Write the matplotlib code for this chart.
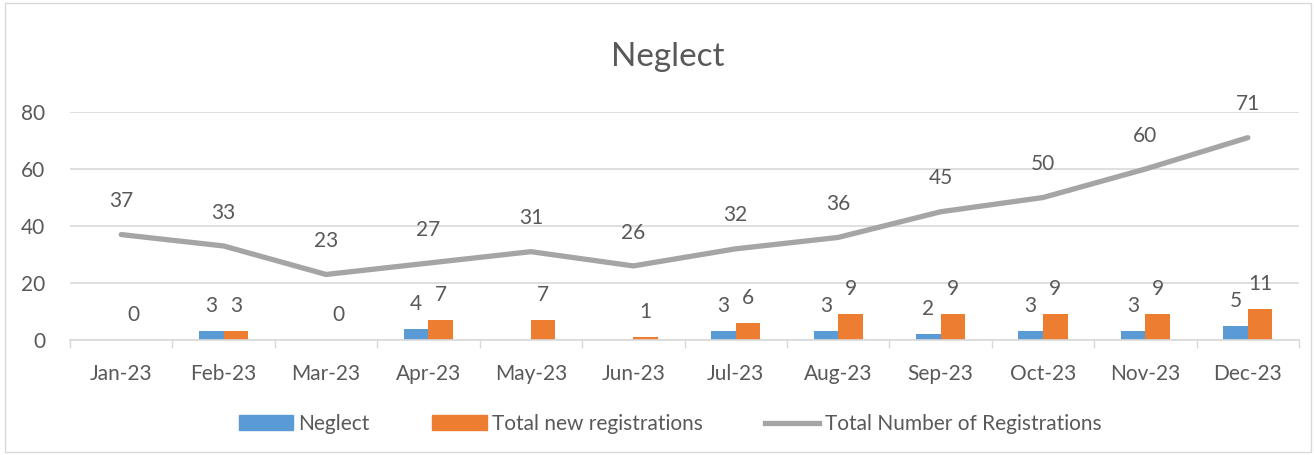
import numpy as np
import matplotlib
matplotlib.use("Agg")
import matplotlib.pyplot as plt
from matplotlib.patches import Rectangle
from matplotlib.lines import Line2D

months = ["Jan-23", "Feb-23", "Mar-23", "Apr-23", "May-23", "Jun-23",
          "Jul-23", "Aug-23", "Sep-23", "Oct-23", "Nov-23", "Dec-23"]
neglect = [np.nan, 3, np.nan, 4, np.nan, np.nan, 3, 3, 2, 3, 3, 5]
new_regs = [0, 3, 0, 7, 7, 1, 6, 9, 9, 9, 9, 11]
total_regs = [37, 33, 23, 27, 31, 26, 32, 36, 45, 50, 60, 71]

blue = "#5B9BD5"
orange = "#ED7D31"
grey = "#A5A5A5"
txt = "#595959"

plt.rcParams["font.family"] = ["Lato", "DejaVu Sans"]

fig = plt.figure(figsize=(13.14, 4.55), dpi=100)
ax = fig.add_axes([0.0533, 0.2527, 0.9353, 0.5011])

x = np.arange(len(months))
w = 0.24
ax.bar(x - w / 2, neglect, w, color=blue, label="Neglect")
ax.bar(x + w / 2, new_regs, w, color=orange, label="Total new registrations")
ax.plot(x, total_regs, color=grey, lw=3.8, solid_capstyle="round",
        label="Total Number of Registrations")

fs = 15
# data labels
for i in range(len(months)):
    if not np.isnan(neglect[i]):
        ax.annotate(f"{neglect[i]:.0f}", (x[i] - w / 2, neglect[i]), xytext=(0, 18),
                    textcoords="offset points", ha="center", va="center",
                    fontsize=fs, color=txt, annotation_clip=False)
    ax.annotate(f"{new_regs[i]}", (x[i] + w / 2, new_regs[i]), xytext=(0, 18),
                textcoords="offset points", ha="center", va="center",
                fontsize=fs, color=txt, annotation_clip=False)
    ax.annotate(f"{total_regs[i]}", (x[i], total_regs[i]), xytext=(0, 24),
                textcoords="offset points", ha="center", va="center",
                fontsize=fs, color=txt, annotation_clip=False)

ax.set_xlim(-0.5, len(months) - 0.5)
ax.set_ylim(0, 80)
ax.set_yticks([0, 20, 40, 60, 80])
ax.set_xticks(x)
ax.set_xticklabels(months)
ax.set_xticks(np.arange(-0.5, len(months)), minor=True)
ax.tick_params(axis="x", which="major", length=0, pad=17, labelsize=fs, labelcolor=txt)
ax.tick_params(axis="x", which="minor", length=6, color="#D9D9D9", width=1)
ax.tick_params(axis="y", length=0, pad=18, labelsize=fs, labelcolor=txt)
ax.grid(axis="y", color="#D9D9D9", lw=1.2)
ax.set_axisbelow(True)
for s in ["left", "right", "top"]:
    ax.spines[s].set_visible(False)
ax.spines["bottom"].set_color("#D9D9D9")
ax.spines["bottom"].set_linewidth(1.2)

fig.text(0.5085, 0.874, "Neglect", ha="center", va="center", fontsize=24, color=txt)

handles = [Rectangle((0, 0), 1, 1, color=blue),
           Rectangle((0, 0), 1, 1, color=orange),
           Line2D([0], [0], color=grey, lw=3.8)]
labels = ["Neglect", "Total new registrations", "Total Number of Registrations"]
leg = fig.legend(handles, labels, loc="center", bbox_to_anchor=(0.51, 0.068), ncol=3,
                 frameon=False, fontsize=fs, handlelength=2.6, handleheight=0.7,
                 handletextpad=0.25, columnspacing=3.0)
for t in leg.get_texts():
    t.set_color(txt)

fig.patches.append(Rectangle((0.004, 0.006), 0.994, 0.988, transform=fig.transFigure,
                             fill=False, edgecolor="#D9D9D9", lw=1))

fig.savefig("out.png", dpi=100)
